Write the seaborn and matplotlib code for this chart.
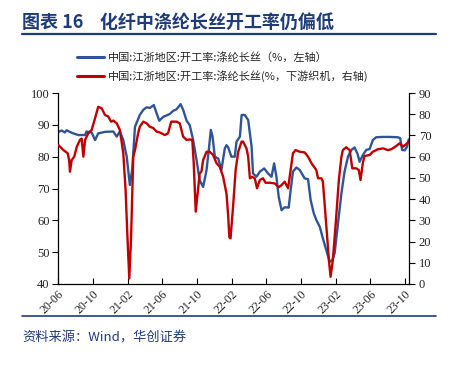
import matplotlib
matplotlib.use("Agg")
import matplotlib.pyplot as plt
import matplotlib.dates as mdates
import matplotlib.lines as mlines
import seaborn as sns
import pandas as pd

# ---- data ----
blue_dates = ["2020-06-02","2020-06-14","2020-06-25","2020-07-01","2020-07-19","2020-08-11","2020-09-04","2020-09-09",
    "2020-09-27","2020-10-09","2020-10-20","2020-11-13","2020-12-12","2020-12-24","2021-01-04","2021-01-16","2021-01-28",
    "2021-02-08","2021-02-16","2021-02-26","2021-03-15","2021-03-27","2021-04-08","2021-04-19","2021-05-03","2021-05-13",
    "2021-05-22","2021-06-05","2021-06-28","2021-07-10","2021-07-22","2021-08-05","2021-08-14","2021-08-26","2021-09-06",
    "2021-09-18","2021-09-30","2021-10-11","2021-10-23","2021-11-04","2021-11-13","2021-11-19","2021-11-25","2021-12-03",
    "2021-12-15","2021-12-26","2022-01-07","2022-01-13","2022-01-19","2022-01-30","2022-02-11","2022-02-17","2022-03-01",
    "2022-03-07","2022-03-18","2022-03-30","2022-04-11","2022-04-16","2022-04-28","2022-05-10","2022-05-25","2022-06-08",
    "2022-06-20","2022-06-29","2022-07-07","2022-07-15","2022-07-25","2022-08-05","2022-08-19","2022-08-26","2022-09-03",
    "2022-09-15","2022-09-27","2022-10-14","2022-10-26","2022-11-04","2022-11-15","2022-11-24","2022-12-06","2022-12-17",
    "2022-12-29","2023-01-10","2023-01-19","2023-01-27","2023-02-08","2023-02-20","2023-03-03","2023-03-15","2023-03-27",
    "2023-04-07","2023-04-17","2023-04-25","2023-05-06","2023-05-18","2023-05-30","2023-06-10","2023-06-22","2023-07-16",
    "2023-08-08","2023-09-06","2023-09-14","2023-09-21","2023-09-30","2023-10-08","2023-10-14"]
blue_vals = [87.8,88.2,87.6,88.3,87.5,86.8,86.8,87.9,
    87.6,85.2,87.3,87.8,87.9,86.3,87.9,85.2,80.0,
    71.1,75.8,89.4,93.1,94.7,95.5,95.3,96.2,93.6,
    91.3,92.5,93.4,94.4,94.9,96.5,94.7,91.3,89.9,
    85.2,78.9,72.6,70.5,75.8,83.1,88.4,86.3,80.0,
    79.4,75.8,82.6,83.6,82.9,80.0,80.0,84.7,86.3,
    93.1,93.1,91.5,83.1,74.7,73.7,75.3,76.3,74.7,
    73.7,77.9,73.7,67.4,63.2,64.1,64.0,69.5,75.3,
    76.6,75.8,73.2,72.9,66.4,62.2,60.1,58.0,54.3,
    50.6,47.0,47.5,49.6,59.0,68.5,75.3,80.0,82.1,
    82.9,81.0,78.4,80.5,82.1,82.4,85.2,86.1,86.2,
    86.2,86.1,85.8,82.1,82.0,83.1,85.4]

red_dates = ["2020-06-02","2020-06-20","2020-07-05","2020-07-10","2020-07-13","2020-07-19","2020-07-28","2020-08-06",
    "2020-08-17","2020-08-23","2020-08-29","2020-09-04","2020-09-15","2020-09-27","2020-10-09","2020-10-20","2020-11-01",
    "2020-11-13","2020-11-24","2020-12-04","2020-12-12","2020-12-24","2021-01-04","2021-01-16","2021-01-24","2021-01-31",
    "2021-02-06","2021-02-12","2021-02-20","2021-02-26","2021-03-09","2021-03-15","2021-03-27","2021-04-08","2021-04-19",
    "2021-05-01","2021-05-13","2021-05-24","2021-06-11","2021-06-22","2021-07-03","2021-07-22","2021-08-02","2021-08-14",
    "2021-08-26","2021-09-06","2021-09-15","2021-09-20","2021-09-27","2021-10-05","2021-10-11","2021-10-17","2021-10-23",
    "2021-11-04","2021-11-15","2021-11-27","2021-12-09","2021-12-20","2022-01-01","2022-01-13","2022-01-19","2022-01-23",
    "2022-01-27","2022-02-05","2022-02-14","2022-02-23","2022-03-07","2022-03-12","2022-03-24","2022-03-30","2022-04-05",
    "2022-04-13","2022-04-22","2022-04-30","2022-05-10","2022-05-21","2022-05-30","2022-06-14","2022-07-01","2022-07-15",
    "2022-07-25","2022-08-05","2022-08-17","2022-08-25","2022-09-03","2022-09-12","2022-09-27","2022-10-14","2022-10-26",
    "2022-11-07","2022-11-24","2022-11-30","2022-12-12","2022-12-17","2022-12-23","2022-12-31","2023-01-07","2023-01-13",
    "2023-01-21","2023-01-31","2023-02-11","2023-02-20","2023-02-25","2023-03-09","2023-03-21","2023-03-30","2023-04-13",
    "2023-04-22","2023-04-28","2023-05-06","2023-05-12","2023-05-30","2023-06-10","2023-06-28","2023-07-16","2023-08-02",
    "2023-08-14","2023-08-31","2023-09-12","2023-09-24","2023-10-06","2023-10-14"]
red_vals = [65.5,63.1,61.6,58.4,52.9,58.4,60.0,64.7,
    67.9,68.5,60.0,67.9,71.0,72.6,78.1,83.5,82.8,
    79.6,79.0,76.5,77.0,75.7,72.6,61.6,44.3,20.7,
    2.7,20.7,60.0,63.1,71.0,74.1,76.5,75.7,74.1,
    73.5,71.8,71.4,70.2,71.0,76.5,76.5,75.7,69.4,
    67.9,68.1,67.9,56.9,34.1,44.3,52.2,52.9,58.4,
    62.3,62.3,60.8,56.9,55.3,50.6,42.5,31.7,22.0,
    21.5,36.4,53.7,62.3,67.1,67.1,63.9,60.0,49.8,
    50.5,49.8,45.1,49.0,49.8,47.7,47.7,47.4,45.6,
    46.6,48.2,45.1,52.9,61.6,63.1,62.3,62.0,60.0,
    56.9,53.7,49.8,49.8,48.2,38.0,23.9,11.3,3.4,
    11.3,28.6,49.0,60.0,63.1,64.4,63.1,54.5,54.5,
    53.7,49.0,56.9,60.3,60.8,62.3,63.5,63.9,63.1,
    63.5,65.0,66.3,64.7,66.0,67.0]

label_blue = "中国:江浙地区:开工率:涤纶长丝（%，左轴）"
label_red = "中国:江浙地区:开工率:涤纶长丝(%，下游织机，右轴)"
title = "图表 16    化纤中涤纶长丝开工率仍偏低"
source = "资料来源：Wind，华创证券"

BLUE = "#2F5597"
RED = "#C00000"
NAVY = "#1F3C78"

sns.set_theme(style="white")
plt.rcParams["font.family"] = ["Noto Sans CJK SC", "DejaVu Sans"]

blue_df = pd.DataFrame({"date": pd.to_datetime(blue_dates), "val": blue_vals})
red_df = pd.DataFrame({"date": pd.to_datetime(red_dates), "val": red_vals})

fig = plt.figure(figsize=(4.51, 3.65), dpi=100)
ax = fig.add_axes([58/451, 1-284/365, (409-58)/451, (284-93)/365])
ax2 = ax.twinx()

sns.lineplot(data=blue_df, x="date", y="val", ax=ax, color=BLUE, linewidth=1.7)
sns.lineplot(data=red_df, x="date", y="val", ax=ax2, color=RED, linewidth=1.7)

ax.set_xlim(pd.Timestamp("2020-06-01"), pd.Timestamp("2023-10-15"))
ax.set_ylim(40, 100)
ax2.set_ylim(0, 90)
ax.set_yticks(range(40, 101, 10))
ax2.set_yticks(range(0, 91, 10))
ax.set_xlabel("")
ax.set_ylabel("")
ax2.set_ylabel("")

ticks = pd.date_range("2020-06-01", "2023-10-01", freq="4MS")
ax.set_xticks(ticks)
ax.xaxis.set_major_formatter(mdates.DateFormatter("%y-%m"))

serif = "Liberation Serif"
for a in (ax, ax2):
    a.spines["top"].set_visible(False)
    for s in ("left", "right", "bottom"):
        a.spines[s].set_color("black")
        a.spines[s].set_linewidth(0.9)
    a.grid(False)
ax.spines["right"].set_visible(False)
ax2.spines["left"].set_visible(False)
ax2.spines["bottom"].set_visible(False)

ax.tick_params(axis="y", direction="out", length=4, width=0.8, color="black",
               labelsize=9, pad=2, left=True)
ax2.tick_params(axis="y", direction="out", length=4, width=0.8, color="black",
                labelsize=9, pad=3, right=True)
ax.tick_params(axis="x", direction="in", length=4, width=0.8, color="black",
               labelsize=8.5, pad=3, bottom=True)
for lab in ax.get_yticklabels() + ax2.get_yticklabels() + ax.get_xticklabels():
    lab.set_fontfamily(serif)
    lab.set_color("#222222")
for lab in ax.get_xticklabels():
    lab.set_rotation(45)
    lab.set_ha("right")
    lab.set_va("top")
    lab.set_rotation_mode("anchor")

# legend
h1 = mlines.Line2D([], [], color=BLUE, linewidth=2.2)
h2 = mlines.Line2D([], [], color=RED, linewidth=2.2)
fig.legend([h1, h2], [label_blue, label_red], loc="upper left",
           bbox_to_anchor=(75/451, 1-50/365), frameon=False,
           prop={"family": ["Noto Sans CJK SC", "DejaVu Sans"], "size": 8},
           handlelength=2.4, handletextpad=0.35, labelspacing=0.65,
           borderaxespad=0, borderpad=0.2)

# title and rules
fig.text(22/451, 1-22/365, title, fontsize=13, fontweight="bold", color=NAVY,
         va="center", ha="left")
fig.add_artist(mlines.Line2D([22/451, 436/451], [1-34/365, 1-34/365],
                             color=NAVY, linewidth=1.6))
fig.add_artist(mlines.Line2D([22/451, 436/451], [1-316/365, 1-316/365],
                             color=NAVY, linewidth=1.2))
fig.text(22/451, 1-338/365, source, fontsize=9.5, color=NAVY, style="italic",
         va="center", ha="left")

fig.savefig("out.png", dpi=100)
